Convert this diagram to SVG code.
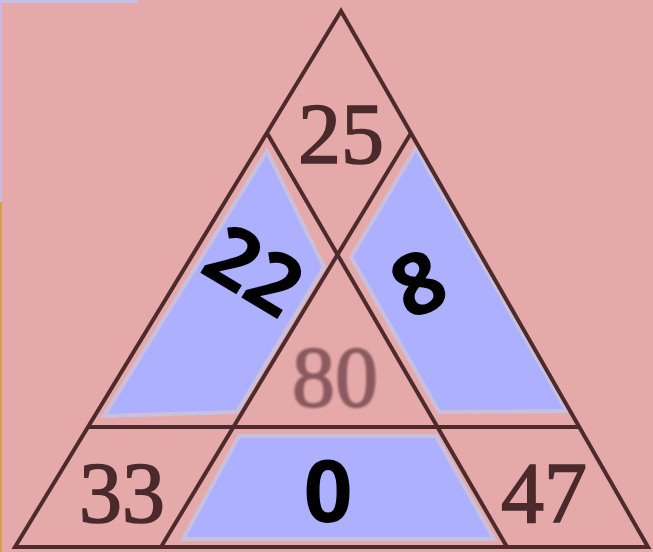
<svg xmlns="http://www.w3.org/2000/svg" width="653" height="552" viewBox="0 0 653 552">
  <style>
    .bg { fill: #e5a9a9; }
    .blue { fill: #adb0ff; stroke: #cbc0dc; stroke-width: 4; stroke-linejoin: miter; }
    .ln { fill: none; stroke: #4d2b2d; stroke-width: 4; stroke-linejoin: miter; stroke-linecap: butt; }
    .given { font-family: "Liberation Serif", "Times New Roman", serif; font-size: 86px; fill: #4a2a2c; stroke: #4a2a2c; stroke-width: 1.6; text-anchor: middle; }
    .faded { fill: #8a5a5e; stroke: #8a5a5e; }
    .ans { font-family: "Open Sans", "Noto Sans", sans-serif; font-weight: 700; fill: #000; text-anchor: middle; }
  </style>
  <defs>
    <filter id="soft" x="-10%" y="-10%" width="120%" height="120%">
      <feGaussianBlur stdDeviation="1.1"/>
    </filter>
  </defs>

  <rect class="bg" x="0" y="0" width="653" height="552"/>
  <rect x="0" y="0" width="138" height="3" fill="#cbbfe0"/>
  <rect x="0" y="0" width="2" height="202" fill="#c6b8f2"/>
  <rect x="0" y="202" width="2" height="350" fill="#d8a044"/>

  <g id="cell-left">
    <polygon class="blue" points="267,151 324,267 237,412 104,416"/>
    <text class="ans" font-size="84" transform="translate(254,270) rotate(31)" x="0" y="30">22</text>
  </g>
  <g id="cell-right">
    <polygon class="blue" points="416,148 351,257 439,412 567,411"/>
    <text class="ans" font-size="86" transform="translate(418,283) rotate(-24)" x="0" y="31">8</text>
  </g>
  <g id="cell-bottom">
    <polygon class="blue" points="239,436 436,436 494,539 183,539"/>
    <text class="ans" font-size="86" x="328" y="522">0</text>
  </g>

  <g id="lines">
    <polygon class="ln" points="341,11 15,547 648,547"/>
    <line class="ln" x1="88" y1="427" x2="579" y2="427"/>
    <line class="ln" x1="267" y1="133" x2="507" y2="547"/>
    <line class="ln" x1="411" y1="133" x2="161" y2="547"/>
  </g>

  <g id="cell-top">
    <text class="given" x="341" y="163">25</text>
  </g>
  <g id="cell-center">
    <text class="given faded" x="335" y="406" filter="url(#soft)">80</text>
  </g>
  <g id="cell-bottom-left">
    <text class="given" x="122" y="522">33</text>
  </g>
  <g id="cell-bottom-right">
    <text class="given" x="544" y="522">47</text>
  </g>
</svg>
